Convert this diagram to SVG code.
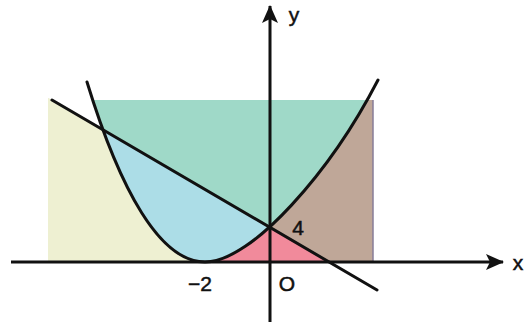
<svg xmlns="http://www.w3.org/2000/svg" width="532" height="322" viewBox="0 0 532 322">
<style>
.curve{fill:none;stroke:#111;stroke-width:3;stroke-linecap:round}
.axis{fill:none;stroke:#111;stroke-width:3}
.lbl{font-family:"Liberation Sans",Arial,sans-serif;font-size:21px;fill:#111;stroke:#111;stroke-width:0.5}
</style>
<defs>
<clipPath id="below"><polygon points="0,69.5 532,381.8 0,381.8"/></clipPath>
<clipPath id="above"><polygon points="0,69.5 532,381.8 532,0 0,0"/></clipPath>
<clipPath id="inside"><path d="M87,82 C120,190 160,262 205,262 C252,262 331,171 378,80 Z"/></clipPath>
<marker id="arr" viewBox="0 0 18 16" refX="17" refY="8" markerWidth="18" markerHeight="16" markerUnits="userSpaceOnUse" orient="auto">
<path d="M0,0 L18,8 L0,16 L4,8 Z" fill="#111"/>
</marker>
</defs>
<g id="regions">
<g id="region-yellow" clip-path="url(#below)"><rect x="48" y="98" width="158" height="164" fill="#eef0d2"/></g>
<g id="region-pink" clip-path="url(#below)"><rect x="204" y="100" width="169" height="162" fill="#f18a9b"/></g>
<g id="region-brown" clip-path="url(#above)"><rect x="204" y="100" width="169" height="162" fill="#bfa798"/></g>
<g id="region-teal" clip-path="url(#above)"><rect x="48" y="100" width="325" height="162" fill="#9fd9c8" clip-path="url(#inside)"/></g>
<g id="region-blue" clip-path="url(#below)"><rect x="48" y="100" width="325" height="162" fill="#acdde7" clip-path="url(#inside)"/></g>
<line x1="373" y1="100" x2="373" y2="262" stroke="#877d98" stroke-width="1.5"/>
</g>
<g id="connectors">
<line id="x-axis" class="axis" x1="11" y1="262" x2="503" y2="262" marker-end="url(#arr)"/>
<line id="y-axis" class="axis" x1="270" y1="322" x2="270" y2="6" marker-end="url(#arr)"/>
<path id="parabola" class="curve" d="M87,82 C120,190 160,262 205,262 C252,262 331,171 378,80"/>
<line id="line" class="curve" x1="52" y1="100" x2="377" y2="290"/>
</g>
<g id="labels">
<text class="lbl" x="294" y="22" text-anchor="middle">y</text>
<text class="lbl" x="518" y="270" text-anchor="middle">x</text>
<text class="lbl" x="298" y="235" text-anchor="middle">4</text>
<text class="lbl" x="287" y="291" text-anchor="middle">O</text>
<text class="lbl" x="200" y="291" text-anchor="middle">−2</text>
</g>
</svg>
